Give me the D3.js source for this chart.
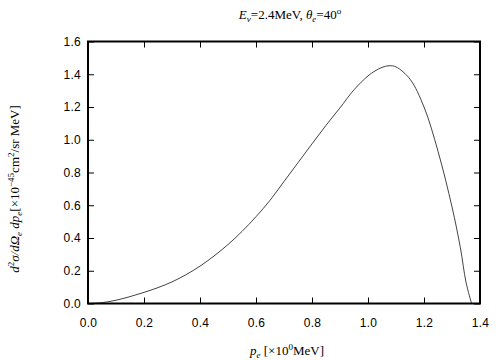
<!DOCTYPE html>
<html><head><meta charset="utf-8">
<script src="https://cdn.jsdelivr.net/npm/d3@7"></script>
<style>
body{margin:0;background:#fff;}
svg{display:block;}
.tick text{font-family:"Liberation Sans",Arial,sans-serif;font-size:12px;fill:#000;letter-spacing:0.3px;}
.lbl{font-family:"Liberation Serif","Times New Roman",serif;font-size:13px;fill:#000;}
</style>
</head><body>
<svg id="c" width="504" height="360"></svg>
<script>
// data
const pe = [0, 0.05, 0.1, 0.15, 0.2, 0.25, 0.3, 0.35, 0.4, 0.45, 0.5, 0.55, 0.6, 0.65, 0.7, 0.75, 0.8, 0.85, 0.9, 0.95, 1.0, 1.025, 1.05, 1.075, 1.1, 1.15, 1.2, 1.25, 1.3, 1.33, 1.35, 1.37];
const xsec = [0, 0.005, 0.02, 0.042, 0.068, 0.097, 0.132, 0.176, 0.228, 0.29, 0.36, 0.44, 0.53, 0.63, 0.745, 0.86, 0.975, 1.088, 1.195, 1.305, 1.39, 1.42, 1.442, 1.452, 1.445, 1.37, 1.2, 0.93, 0.59, 0.34, 0.13, 0];
const xTicks = [0, 0.2, 0.4, 0.6, 0.8, 1.0, 1.2, 1.4];
const yTicks = [0, 0.2, 0.4, 0.6, 0.8, 1.0, 1.2, 1.4, 1.6];

const svg = d3.select("#c");
const L = 88, R = 480, T = 41.5, B = 303.5;
const x = d3.scaleLinear().domain([0, 1.4]).range([L, R]);
const y = d3.scaleLinear().domain([0, 1.6]).range([B, T]);
const fmt = d3.format(".1f");

svg.append("g").attr("transform", `translate(0,${B})`)
  .call(d3.axisBottom(x).tickValues(xTicks).tickFormat(fmt).tickSizeInner(-6).tickSizeOuter(0).tickPadding(15))
  .call(g => g.select(".domain").remove());
svg.append("g").attr("transform", `translate(${L},0)`)
  .call(d3.axisLeft(y).tickValues(yTicks).tickFormat(fmt).tickSizeInner(-6).tickSizeOuter(0).tickPadding(7))
  .call(g => g.select(".domain").remove());
svg.append("g").attr("transform", `translate(0,${T})`)
  .call(d3.axisTop(x).tickValues(xTicks).tickFormat("").tickSizeInner(-6).tickSizeOuter(0))
  .call(g => g.select(".domain").remove());
svg.append("g").attr("transform", `translate(${R},0)`)
  .call(d3.axisRight(y).tickValues(yTicks).tickFormat("").tickSizeInner(-6).tickSizeOuter(0))
  .call(g => g.select(".domain").remove());
svg.selectAll(".tick line").attr("stroke", "#000").attr("stroke-width", 1);

const line = d3.line().x((d, i) => x(pe[i])).y(d => y(d)).curve(d3.curveCatmullRom.alpha(0.5));
svg.append("path").attr("d", line(xsec)).attr("fill", "none").attr("stroke", "#444").attr("stroke-width", 1);

svg.append("rect").attr("x", L).attr("y", T).attr("width", R - L).attr("height", B - T)
  .attr("fill", "none").attr("stroke", "#000").attr("stroke-width", 2);

// title
const t = svg.append("text").attr("class", "lbl").attr("x", 290).attr("y", 19).attr("text-anchor", "middle");
t.append("tspan").attr("font-style", "italic").text("E");
t.append("tspan").attr("font-style", "italic").attr("font-size", "9px").attr("dy", 3).text("ν");
t.append("tspan").attr("dy", -3).text("=2.4MeV,  ");
t.append("tspan").attr("font-style", "italic").text("θ");
t.append("tspan").attr("font-style", "italic").attr("font-size", "9px").attr("dy", 3).text("e");
t.append("tspan").attr("dy", -3).text("=40");
t.append("tspan").attr("font-size", "9px").attr("dy", -5).text("o");

// x label
const xl = svg.append("text").attr("class", "lbl").attr("x", 287).attr("y", 355).attr("text-anchor", "middle");
xl.append("tspan").attr("font-style", "italic").text("p");
xl.append("tspan").attr("font-style", "italic").attr("font-size", "9px").attr("dy", 3).text("e");
xl.append("tspan").attr("dy", -3).text(" [×10");
xl.append("tspan").attr("font-size", "9px").attr("dy", -5).text("0");
xl.append("tspan").attr("dy", 5).text("MeV]");

// y label
const yl = svg.append("text").attr("class", "lbl").attr("transform", "translate(19,189) rotate(-90)").attr("text-anchor", "middle");
yl.append("tspan").attr("font-style", "italic").text("d");
yl.append("tspan").attr("font-size", "9px").attr("dy", -5).text("2");
yl.append("tspan").attr("font-style", "italic").attr("dy", 5).text("σ/dΩ");
yl.append("tspan").attr("font-style", "italic").attr("font-size", "9px").attr("dy", 3).text("e");
yl.append("tspan").attr("font-style", "italic").attr("dy", -3).text(" dp");
yl.append("tspan").attr("font-style", "italic").attr("font-size", "9px").attr("dy", 3).text("e");
yl.append("tspan").attr("dy", -3).text("[×10");
yl.append("tspan").attr("font-size", "9px").attr("dy", -5).text("−45");
yl.append("tspan").attr("dy", 5).text("cm");
yl.append("tspan").attr("font-size", "9px").attr("dy", -5).text("2");
yl.append("tspan").attr("dy", 5).text("/sr MeV]");
</script>
</body></html>
